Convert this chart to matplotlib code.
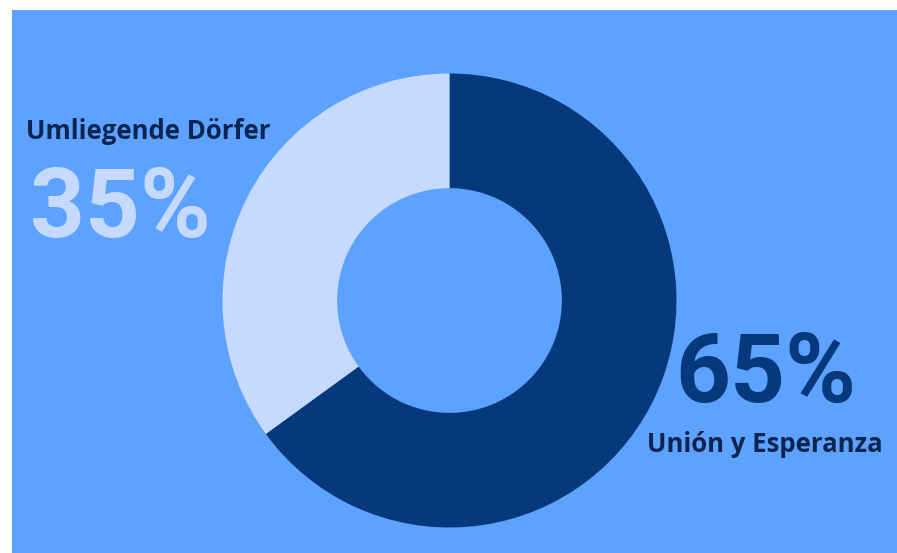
import matplotlib
matplotlib.use("Agg")
import matplotlib.pyplot as plt

labels = ["Unión y Esperanza", "Umliegende Dörfer"]
values = [65, 35]
colors = ["#06387C", "#C6DAFF"]
pct_labels = ["65%", "35%"]

W, H = 897, 553
fig = plt.figure(figsize=(W / 100, H / 100), dpi=100)
fig.patch.set_facecolor("white")
bg = fig.add_axes([12 / W, 0, 1 - 12 / W, 1 - 10 / H])
bg.set_facecolor("#5DA2FE")
bg.set_xticks([]); bg.set_yticks([])
for s in bg.spines.values():
    s.set_visible(False)

cx, cy, r = 449.5, 300.5, 227
ax = fig.add_axes([(cx - r) / W, (H - cy - r) / H, 2 * r / W, 2 * r / H])
ax.pie(values, colors=colors, startangle=90, counterclock=False,
       wedgeprops=dict(width=0.505, edgecolor="none"), radius=1)
ax.set_xlim(-1, 1)
ax.set_ylim(-1, 1)
ax.set_aspect("equal")
ax.axis("off")

lfont = ["Open Sans", "DejaVu Sans"]
pfont = ["Roboto", "DejaVu Sans"]
fig.text(26 / W, 1 - 139 / H, labels[1], fontsize=18.5, fontweight="bold", color="#0B2550",
         family=lfont, ha="left", va="baseline")
fig.text(30 / W, 1 - 237 / H, pct_labels[1], fontsize=69, fontweight="bold", color=colors[1],
         family=pfont, ha="left", va="baseline")
fig.text(675 / W, 1 - 402 / H, pct_labels[0], fontsize=69, fontweight="bold", color=colors[0],
         family=pfont, ha="left", va="baseline")
fig.text(647 / W, 1 - 452 / H, labels[0], fontsize=18.5, fontweight="bold", color="#0B2550",
         family=lfont, ha="left", va="baseline")

fig.savefig("out.png", dpi=100)
